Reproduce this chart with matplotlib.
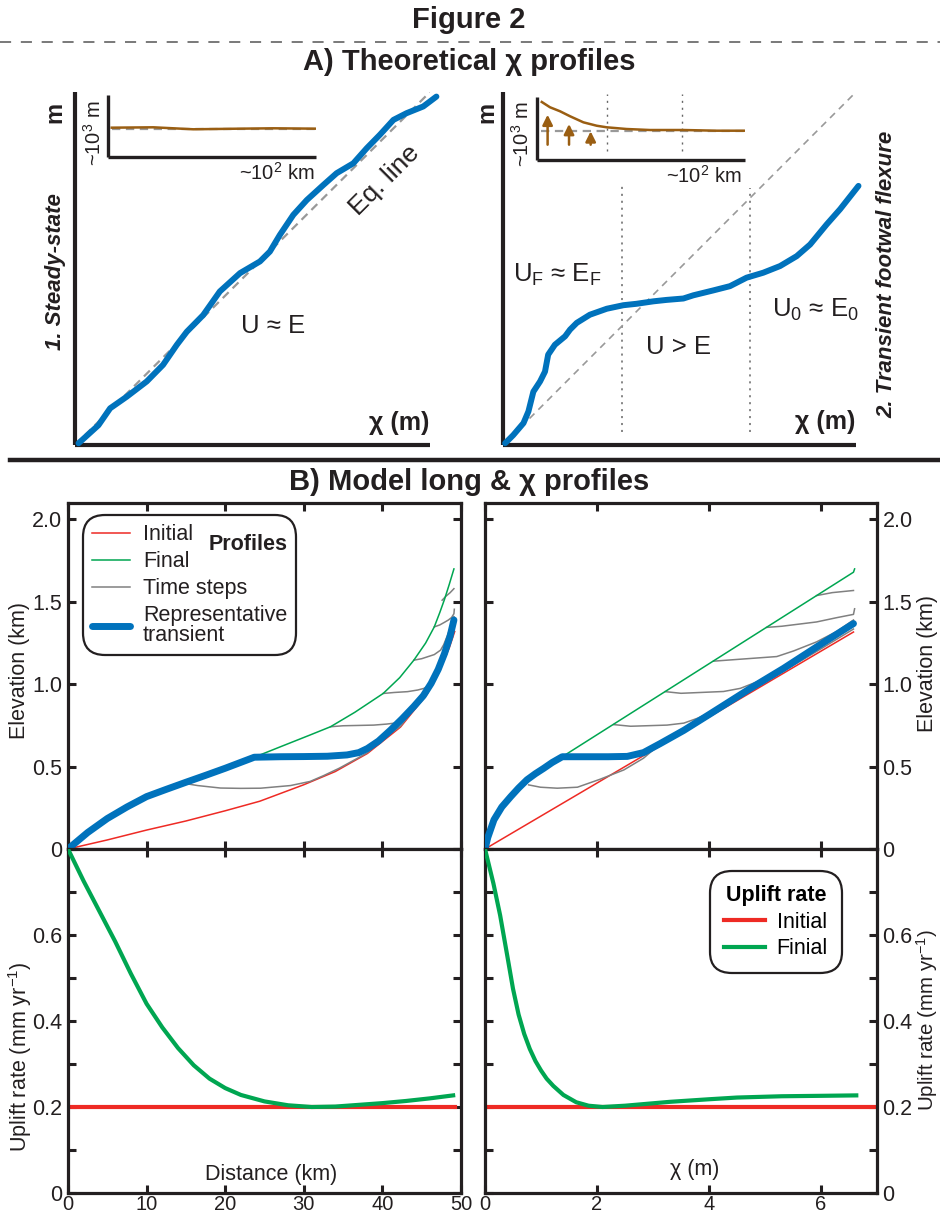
import numpy as np
import matplotlib
matplotlib.use("Agg")
import matplotlib.pyplot as plt
from matplotlib.lines import Line2D

# ------------------------------------------------------------------ data
# A1: steady-state schematic (normalised chi, normalised elevation)
a1_chi = [0.01, 0.066, 0.099, 0.146, 0.202, 0.248, 0.287, 0.315, 0.361, 0.408, 0.465,
          0.521, 0.549, 0.577, 0.615, 0.653, 0.700, 0.737, 0.784, 0.822, 0.859, 0.897,
          0.934, 0.981, 1.018]
a1_elev = [0.005, 0.056, 0.104, 0.137, 0.180, 0.227, 0.284, 0.321, 0.368, 0.435, 0.487,
           0.520, 0.548, 0.595, 0.652, 0.694, 0.737, 0.770, 0.798, 0.841, 0.879, 0.921,
           0.940, 0.959, 0.987]
eq_line = [0.0, 1.0]
a1_ins_x = [0.018, 0.218, 0.41, 0.635, 0.795, 1.0]
a1_ins_z = [0.473, 0.479, 0.447, 0.457, 0.463, 0.457]
a1_ins_base = 0.452

# A2: transient footwall flexure schematic
a2_chi = [0.006, 0.029, 0.058, 0.072, 0.086, 0.105, 0.119, 0.128, 0.147, 0.176, 0.190,
          0.209, 0.246, 0.294, 0.341, 0.378, 0.426, 0.463, 0.511, 0.539, 0.596, 0.643,
          0.690, 0.737, 0.785, 0.832, 0.870, 0.917, 0.955, 1.007]
a2_elev = [0.005, 0.028, 0.062, 0.095, 0.151, 0.180, 0.208, 0.256, 0.284, 0.308, 0.327,
           0.346, 0.369, 0.386, 0.396, 0.400, 0.407, 0.411, 0.415, 0.424, 0.438, 0.450,
           0.474, 0.488, 0.507, 0.535, 0.568, 0.625, 0.668, 0.734]
a2_zone_bounds = [0.336, 0.700]
a2_ins_x = [0.023, 0.0625, 0.111, 0.159, 0.223, 0.287, 0.335, 0.431, 0.543, 0.703, 0.864, 1.0]
a2_ins_z = [0.921, 0.837, 0.773, 0.694, 0.598, 0.544, 0.519, 0.492, 0.476, 0.476, 0.465, 0.465]
a2_ins_base = 0.465
a2_ins_bounds = [0.335, 0.699]
a2_arrow_x = [0.051, 0.154, 0.258]
a2_arrow_top = [0.719, 0.571, 0.455]
a2_arrow_bottom = 0.243

# B: model long profiles vs distance (km) -> elevation (km)
d_initial = [0, 5, 10, 15, 20, 24.4, 30, 34, 38.1, 42.3, 45.7, 47.4, 48.5, 49.2]
z_initial = [0, 0.055, 0.115, 0.17, 0.232, 0.29, 0.39, 0.47, 0.58, 0.74, 0.94, 1.10, 1.22, 1.32]
d_final = [0, 2.5, 5, 7.5, 10, 12.5, 15, 17.5, 20, 23.7, 27, 30.8, 33.4, 36.5, 40.1,
           42.2, 44.0, 45.5, 46.6, 47.3, 47.9, 48.5, 49.1]
z_final = [0, 0.10, 0.185, 0.255, 0.318, 0.362, 0.405, 0.447, 0.49, 0.557, 0.62, 0.692,
           0.742, 0.83, 0.944, 1.04, 1.146, 1.25, 1.348, 1.435, 1.515, 1.605, 1.70]
d_rep = [0, 2.5, 5, 7.5, 10, 12.5, 15, 17.5, 20, 23.7, 27, 30, 33, 35.5, 37, 38.1, 39.5,
         41, 42.5, 44, 45.2, 46.2, 47.1, 47.9, 48.6, 49.1]
z_rep = [0, 0.10, 0.185, 0.255, 0.318, 0.362, 0.405, 0.447, 0.49, 0.557, 0.560, 0.561,
         0.563, 0.571, 0.585, 0.61, 0.655, 0.72, 0.79, 0.865, 0.93, 1.005, 1.09, 1.186,
         1.29, 1.39]
d_steps = [
    [14.7, 16.5, 19.4, 22, 24.5, 28.3, 30.8, 32.5, 34.5, 36.8, 38.1, 40, 42.3, 44, 45.7, 47.4, 48.5, 49.1],
    [33.4, 35, 37, 38.9, 40.5, 41.9, 43.2, 44.0, 45.2, 46.2, 47.1, 47.9, 48.6, 49.1],
    [40.1, 41.5, 43.2, 44.5, 45.3, 46.0, 46.5, 47.2, 47.9, 48.6, 49.1],
    [44.0, 45.0, 45.7, 46.6, 47.4, 47.8, 48.2, 48.7, 49.1],
    [46.6, 47.3, 47.9, 48.4, 48.8, 49.1, 49.15],
    [47.6, 48.1, 48.6, 49.1],
]
z_steps = [
    [0.399, 0.385, 0.37, 0.368, 0.369, 0.385, 0.41, 0.445, 0.49, 0.55, 0.585, 0.665, 0.745, 0.85, 0.95, 1.11, 1.24, 1.34],
    [0.742, 0.748, 0.75, 0.752, 0.758, 0.766, 0.802, 0.865, 0.935, 1.01, 1.095, 1.19, 1.295, 1.39],
    [0.944, 0.95, 0.955, 0.965, 0.975, 0.995, 1.025, 1.106, 1.195, 1.30, 1.40],
    [1.146, 1.155, 1.166, 1.18, 1.207, 1.24, 1.287, 1.35, 1.41],
    [1.348, 1.36, 1.376, 1.39, 1.405, 1.428, 1.455],
    [1.51, 1.535, 1.555, 1.58],
]

# B: chi profiles chi (m) -> elevation (km)
c_initial = [0, 6.58]
zc_initial = [0, 1.317]
c_final = [0, 0.05, 0.16, 0.3, 0.46, 0.6, 0.75, 0.9, 1.05, 1.2, 1.38, 6.58, 6.6]
zc_final = [0, 0.07, 0.177, 0.255, 0.318, 0.37, 0.42, 0.457, 0.49, 0.525, 0.56, 1.68, 1.70]
c_rep = [0, 0.05, 0.16, 0.3, 0.46, 0.6, 0.75, 0.9, 1.05, 1.2, 1.38, 1.8, 2.2, 2.54,
         2.83, 3.13, 3.55, 4.02, 4.74, 5.33, 5.92, 6.58]
zc_rep = [0, 0.07, 0.177, 0.255, 0.318, 0.37, 0.42, 0.457, 0.49, 0.525, 0.56, 0.56, 0.56,
          0.562, 0.585, 0.64, 0.72, 0.82, 0.975, 1.096, 1.226, 1.368]
c_steps = [
    [0.78, 0.99, 1.29, 1.65, 2.06, 2.48, 2.83, 3.07, 4.0, 5.0, 6.0, 6.58],
    [2.30, 2.6, 3.25, 3.55, 3.79, 4.02, 4.74, 5.33, 5.92, 6.58],
    [3.22, 3.5, 4.26, 4.56, 4.86, 5.09, 5.6, 6.1, 6.58],
    [4.08, 4.4, 5.21, 5.51, 5.92, 6.28, 6.58],
    [5.03, 5.3, 5.92, 6.28, 6.58, 6.6],
    [5.92, 6.2, 6.58],
]
zc_steps = [
    [0.389, 0.375, 0.369, 0.375, 0.424, 0.48, 0.551, 0.621, 0.812, 1.012, 1.215, 1.335],
    [0.755, 0.745, 0.752, 0.764, 0.793, 0.827, 0.98, 1.10, 1.23, 1.375],
    [0.955, 0.945, 0.956, 0.975, 1.015, 1.055, 1.16, 1.265, 1.385],
    [1.14, 1.148, 1.168, 1.202, 1.257, 1.32, 1.39],
    [1.345, 1.352, 1.378, 1.404, 1.424, 1.458],
    [1.538, 1.556, 1.569],
]

# B: uplift rates (mm/yr)
d_uplift = [0, 2, 4, 6, 8, 10, 12, 14, 16, 18, 20, 22, 25, 28, 31, 34, 37, 40, 43, 46, 49]
u_final_d = [0.80, 0.725, 0.655, 0.585, 0.51, 0.44, 0.385, 0.337, 0.297, 0.266, 0.244, 0.228,
             0.213, 0.204, 0.200, 0.201, 0.205, 0.209, 0.214, 0.220, 0.227]
d_uplift_init = [0, 49.2]
u_init_d = [0.2, 0.2]
c_uplift = [0, 0.15, 0.27, 0.4, 0.5, 0.6, 0.7, 0.8, 0.9, 1.0, 1.1, 1.22, 1.4, 1.63, 1.85,
            2.1, 2.5, 3.3, 4.0, 4.5, 5.3, 6.0, 6.63]
u_final_c = [0.80, 0.72, 0.646, 0.55, 0.475, 0.415, 0.370, 0.335, 0.307, 0.285, 0.266,
             0.249, 0.228, 0.211, 0.203, 0.200, 0.203, 0.212, 0.218, 0.222, 0.225, 0.226, 0.227]
c_uplift_init = [0, 7]
u_init_c = [0.2, 0.2]

elev_ticks = [0, 0.5, 1.0, 1.5, 2.0]
elev_ticklabels = ["0", "0.5", "1.0", "1.5", "2.0"]
uplift_ticks = [0, 0.1, 0.2, 0.3, 0.4, 0.5, 0.6, 0.7, 0.8]
uplift_ticklabels = ["0", "", "0.2", "", "0.4", "", "0.6", "", ""]
dist_ticks = [0, 10, 20, 30, 40, 50]
chi_ticks = [0, 2, 4, 6]

# ------------------------------------------------------------------ style
plt.rcParams["font.family"] = ["Liberation Sans", "DejaVu Sans"]
plt.rcParams["mathtext.fontset"] = "custom"
plt.rcParams["mathtext.rm"] = "Liberation Sans"
plt.rcParams["mathtext.it"] = "Liberation Sans:italic"
plt.rcParams["mathtext.bf"] = "Liberation Sans:bold"
plt.rcParams["lines.scale_dashes"] = False

RED = "#EE2A24"
GREEN = "#00A651"
GREY = "#808080"
BLUE = "#0072BC"
BROWN = "#9A5E12"
INK = "#231F20"
FS = 15.5

W, H = 940, 1220
fig = plt.figure(figsize=(W / 100, H / 100), dpi=100)


def px_axes(l, t, r, b):
    return fig.add_axes([l / W, 1 - b / H, (r - l) / W, (b - t) / H])


def ftext(x, y, s, **kw):
    kw.setdefault("ha", "center")
    kw.setdefault("va", "center")
    kw.setdefault("color", INK)
    return fig.text(x / W, 1 - y / H, s, **kw)


def schematic_axes(ax, lw):
    ax.set_xlim(0, 1)
    ax.set_ylim(0, 1)
    ax.patch.set_alpha(0)
    for s in ("top", "right"):
        ax.spines[s].set_visible(False)
    for s in ("left", "bottom"):
        ax.spines[s].set_linewidth(lw)
        ax.spines[s].set_color(INK)
        ax.spines[s].set_capstyle("butt")
    ax.set_xticks([])
    ax.set_yticks([])


# ------------------------------------------------------------------ headers
ftext(469, 20, "Figure 2", fontsize=21, fontweight="bold")
fig.add_artist(Line2D([0, 1], [1 - 42 / H] * 2, transform=fig.transFigure,
                      color="#555555", lw=1.1, dashes=(8, 7)))
ftext(469, 62, "A) Theoretical χ profiles", fontsize=21, fontweight="bold")
fig.add_artist(Line2D([10 / W, 1], [1 - 460 / H] * 2, transform=fig.transFigure,
                      color=INK, lw=3.2))
ftext(469, 482, "B) Model long & χ profiles", fontsize=21, fontweight="bold")

# ------------------------------------------------------------------ A1
ax = px_axes(75, 92, 430, 445)
schematic_axes(ax, 3.0)
ax.plot(eq_line, eq_line, color="#999999", lw=1.6, dashes=(6, 4), zorder=2)
ax.plot(a1_chi, a1_elev, color=BLUE, lw=4.3, solid_capstyle="round", clip_on=False, zorder=3)

ins = px_axes(108, 95, 316, 157)
schematic_axes(ins, 2.4)
ins.plot([0.02, 1.0], [a1_ins_base] * 2, color="#999999", lw=1.6, dashes=(6, 4))
ins.plot(a1_ins_x, a1_ins_z, color=BROWN, lw=1.8)

ftext(55, 112, "m", fontsize=17, fontweight="bold", rotation=90)
ftext(55, 272, "1. Steady-state", fontsize=16, fontweight="bold", style="italic", rotation=90)
ftext(94, 133, "~10$^3$ m", fontsize=14.5, rotation=90)
ftext(277, 173, "~10$^2$ km", fontsize=14.5)
ftext(385, 180, "Eq. line", fontsize=19, rotation=45)
ftext(273, 326, "U ≈ E", fontsize=18.5)
ftext(399, 423, "χ (m)", fontsize=18, fontweight="bold")

# ------------------------------------------------------------------ A2
ax = px_axes(503, 92, 856, 445)
schematic_axes(ax, 3.0)
ax.plot(eq_line, eq_line, color="#999999", lw=1.2, dashes=(5, 4), zorder=2)
for xb, top in zip(a2_zone_bounds, [0.739, 0.729]):
    ax.plot([xb, xb], [0.038, top], color="#666666", lw=1.1, dashes=(1.5, 3.5), zorder=1)
ax.plot(a2_chi, a2_elev, color=BLUE, lw=4.3, solid_capstyle="round", clip_on=False, zorder=3)

ins = px_axes(537, 97, 745, 160)
schematic_axes(ins, 2.4)
for xb in a2_ins_bounds:
    ins.plot([xb, xb], [0.138, 1.05], color="#666666", lw=1.0, dashes=(1.5, 3.5), clip_on=False)
ins.plot([0.02, 1.0], [a2_ins_base] * 2, color="#999999", lw=1.6, dashes=(6, 4))
ins.plot(a2_ins_x, a2_ins_z, color=BROWN, lw=1.8)
for xa, ta in zip(a2_arrow_x, a2_arrow_top):
    ins.annotate("", xy=(xa, ta), xytext=(xa, a2_arrow_bottom),
                 arrowprops=dict(arrowstyle="-|>", color=BROWN, lw=1.8,
                                 mutation_scale=15, shrinkA=0, shrinkB=0))

ftext(487, 112, "m", fontsize=17, fontweight="bold", rotation=90)
ftext(522, 134, "~10$^3$ m", fontsize=14.5, rotation=90)
ftext(704, 176, "~10$^2$ km", fontsize=14.5)
ftext(557, 275, "U$_\\mathrm{F}$ ≈ E$_\\mathrm{F}$", fontsize=18.5)
ftext(678, 347, "U > E", fontsize=18.5)
ftext(815, 310, "U$_0$ ≈ E$_0$", fontsize=18.5)
ftext(825, 422, "χ (m)", fontsize=18, fontweight="bold")
ftext(887, 274, "2. Transient footwal flexure", fontsize=16, fontweight="bold",
      style="italic", rotation=90)


# ------------------------------------------------------------------ B
def style_b(ax):
    for s in ax.spines.values():
        s.set_linewidth(2.3)
        s.set_color(INK)
    ax.tick_params(direction="in", length=6, width=2.2, top=True, right=True,
                   bottom=True, left=True, labelsize=FS, colors=INK, pad=4)


axTL = px_axes(68, 503, 461, 849)
axTR = px_axes(485, 503, 877, 849)
axBL = px_axes(68, 849, 461, 1193)
axBR = px_axes(485, 849, 877, 1193)
for a in (axTL, axTR, axBL, axBR):
    style_b(a)
for a in (axBL, axBR):
    a.tick_params(axis="x", labelsize=14.5, pad=1.5)

# top-left: distance
h_init, = axTL.plot(d_initial, z_initial, color=RED, lw=1.1, zorder=2)
h_step = None
for xs, zs in zip(d_steps, z_steps):
    h_step, = axTL.plot(xs, zs, color=GREY, lw=1.1, zorder=3)
h_fin, = axTL.plot(d_final, z_final, color=GREEN, lw=1.1, zorder=4)
h_rep, = axTL.plot(d_rep, z_rep, color=BLUE, lw=5, zorder=5, solid_capstyle="round")
axTL.set_xlim(0, 50)
axTL.set_ylim(0, 2.1)
axTL.set_xticks(dist_ticks)
axTL.set_yticks(elev_ticks)
axTL.set_yticklabels(elev_ticklabels)
axTL.tick_params(labelbottom=False)

leg = axTL.legend([h_init, h_fin, h_step, h_rep],
                  ["Initial", "Final", "Time steps", "Representative\ntransient"],
                  loc="upper left", bbox_to_anchor=(0.039, 0.965), borderaxespad=0,
                  fontsize=FS, handlelength=1.75, handletextpad=0.6, labelspacing=0.28,
                  borderpad=0.42, fancybox=True, framealpha=1)
leg.get_frame().set_boxstyle("round,pad=0,rounding_size=1.0")
leg.get_frame().set_edgecolor(INK)
leg.get_frame().set_linewidth(1.6)
leg.get_texts()[3].set_linespacing(0.9)
for t in leg.get_texts():
    t.set_color(INK)
axTL.text(0.459, 0.879, "Profiles", transform=axTL.transAxes, fontsize=FS,
          fontweight="bold", ha="center", va="center", color=INK, zorder=10)

# top-right: chi
axTR.plot(c_initial, zc_initial, color=RED, lw=1.1, zorder=2)
for xs, zs in zip(c_steps, zc_steps):
    axTR.plot(xs, zs, color=GREY, lw=1.1, zorder=3)
axTR.plot(c_final, zc_final, color=GREEN, lw=1.1, zorder=4)
axTR.plot(c_rep, zc_rep, color=BLUE, lw=5, zorder=5, solid_capstyle="round")
axTR.set_xlim(0, 7)
axTR.set_ylim(0, 2.1)
axTR.set_xticks(chi_ticks)
axTR.set_yticks(elev_ticks)
axTR.set_yticklabels(elev_ticklabels)
axTR.tick_params(labelbottom=False, labelleft=False, labelright=True)

# bottom-left: uplift vs distance
axBL.plot(d_uplift_init, u_init_d, color=RED, lw=3, zorder=2)
axBL.plot(d_uplift, u_final_d, color=GREEN, lw=3, zorder=3)
axBL.set_xlim(0, 50)
axBL.set_ylim(0, 0.8)
axBL.set_xticks(dist_ticks)
axBL.set_yticks(uplift_ticks)
axBL.set_yticklabels(uplift_ticklabels)
axBL.text(0.517, 0.055, "Distance (km)", transform=axBL.transAxes, fontsize=FS,
          ha="center", va="center", color=INK)

# bottom-right: uplift vs chi
hr, = axBR.plot(c_uplift_init, u_init_c, color=RED, lw=3, zorder=2)
hg, = axBR.plot(c_uplift, u_final_c, color=GREEN, lw=3, zorder=3)
axBR.set_xlim(0, 7)
axBR.set_ylim(0, 0.8)
axBR.set_xticks(chi_ticks)
axBR.set_yticks(uplift_ticks)
axBR.set_yticklabels(uplift_ticklabels)
axBR.tick_params(labelleft=False, labelright=True)
axBR.text(0.536, 0.069, "χ (m)", transform=axBR.transAxes, fontsize=FS,
          ha="center", va="center", color=INK)
leg2 = axBR.legend([hr, hg], ["Initial", "Finial"], title="Uplift rate",
                   title_fontproperties={"weight": "bold", "size": FS},
                   loc="upper left", bbox_to_anchor=(0.574, 0.935), borderaxespad=0,
                   fontsize=FS, handlelength=1.9, handletextpad=0.55, labelspacing=0.25,
                   borderpad=0.65, fancybox=True, framealpha=1)
leg2.get_frame().set_boxstyle("round,pad=0,rounding_size=1.0")
leg2.get_frame().set_edgecolor(INK)
leg2.get_frame().set_linewidth(1.6)

# y labels
ftext(20, 670, "Elevation (km)", fontsize=FS, rotation=90)
ftext(928, 663, "Elevation (km)", fontsize=FS, rotation=90)
ftext(20, 1057, "Uplift rate (mm yr$^{-1}$)", fontsize=FS, rotation=90)
ftext(927, 1020, "Uplift rate (mm yr$^{-1}$)", fontsize=14.8, rotation=90)

fig.savefig("out.png", dpi=100)
